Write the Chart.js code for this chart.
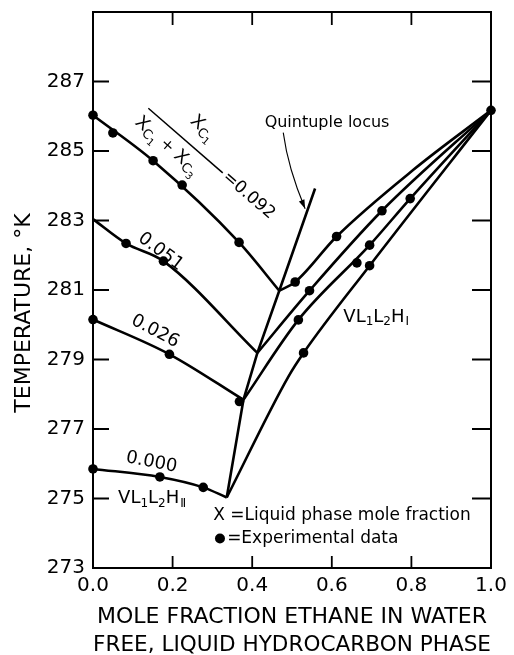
<!DOCTYPE html>
<html>
<head>
<meta charset="utf-8">
<title>Ethane hydrate phase diagram</title>
<script src="https://cdn.jsdelivr.net/npm/chart.js@4.4.1/dist/chart.umd.min.js"></script>
<style>
  html, body { margin: 0; padding: 0; background: #fff; }
  canvas { display: block; }
</style>
</head>
<body>
<canvas id="chart" width="514" height="655"></canvas>
<script>
// Axis ticks
const xTicks = [0, 0.2, 0.4, 0.6, 0.8, 1.0];
const yTicks = [273, 275, 277, 279, 281, 283, 285, 287];

// Isopleths, left of the quintuple locus (xC1 / (xC1 + xC3))
const left092X = [0, 0.151, 0.367, 0.468];
const left092Y = [286.03, 284.72, 282.37, 280.98];
const left051X = [0, 0.083, 0.177, 0.413];
const left051Y = [283.04, 282.34, 281.83, 279.19];
const left026X = [0, 0.192, 0.378];
const left026Y = [280.15, 279.15, 277.84];
const left000X = [0, 0.168, 0.277, 0.336];
const left000Y = [275.85, 275.62, 275.32, 275.03];

// Isopleths, right of the quintuple locus (VL1L2HI region)
const right092X = [0.468, 0.508, 0.612, 0.805, 1.0];
const right092Y = [280.98, 281.23, 282.54, 284.46, 286.17];
const right051X = [0.413, 0.544, 0.726, 1.0];
const right051Y = [279.19, 280.98, 283.28, 286.17];
const right026X = [0.378, 0.516, 0.695, 0.797, 1.0];
const right026Y = [277.84, 280.14, 282.29, 283.63, 286.17];
const right000X = [0.336, 0.491, 0.529, 0.695, 1.0];
const right000Y = [275.03, 278.51, 279.19, 281.70, 286.17];

// Quintuple locus
const quintX = [0.336, 0.378, 0.413, 0.468, 0.558];
const quintY = [275.03, 277.84, 279.19, 280.98, 283.92];

// Experimental data
const expX = [0, 0.050, 0.151, 0.224, 0.367, 0.508, 0.612,
              0.083, 0.177, 0.544, 0.726,
              0, 0.192, 0.368, 0.516, 0.663, 0.695, 0.797,
              0, 0.168, 0.277, 0.529, 0.695, 1.0];
const expY = [286.03, 285.52, 284.72, 284.02, 282.37, 281.23, 282.54,
              282.34, 281.83, 280.98, 283.28,
              280.15, 279.15, 277.79, 280.14, 281.78, 282.29, 283.63,
              275.85, 275.62, 275.32, 279.19, 281.70, 286.17];

const INK = '#000';
const FONT = '"DejaVu Sans", sans-serif';

function zip(xs, ys) {
  return xs.map((x, i) => ({ x, y: ys[i] }));
}

function curve(xs, ys, smooth) {
  return {
    type: 'line',
    data: zip(xs, ys),
    borderColor: INK,
    borderWidth: 2.6,
    pointRadius: 0,
    fill: false,
    clip: false,
    cubicInterpolationMode: smooth ? 'monotone' : 'default',
    tension: 0,
  };
}

// text made of runs of different sizes (for subscripts)
function drawRich(ctx, parts, x, y, angle, align) {
  ctx.save();
  ctx.translate(x, y);
  ctx.rotate(angle || 0);
  ctx.textBaseline = 'middle';
  ctx.textAlign = 'left';
  let w = 0;
  parts.forEach(p => { ctx.font = `${p.size}px ${FONT}`; w += ctx.measureText(p.t).width; });
  let cx = align === 'center' ? -w / 2 : 0;
  parts.forEach(p => {
    ctx.font = `${p.size}px ${FONT}`;
    ctx.fillText(p.t, cx + (p.dx || 0), p.dy || 0);
    cx += ctx.measureText(p.t).width;
  });
  ctx.restore();
}

function xc(sub) {
  return [
    { t: 'X', size: 18 },
    { t: 'C', size: 13, dy: 5 },
    { t: sub, size: 10, dy: 9 },
  ];
}

const notes = {
  id: 'notes',
  afterDraw(chart) {
    const { ctx, chartArea: a, scales: { x, y } } = chart;
    const px = v => x.getPixelForValue(v);
    const py = v => y.getPixelForValue(v);
    const deg = d => d * Math.PI / 180;

    ctx.save();
    ctx.fillStyle = INK;
    ctx.strokeStyle = INK;

    // frame and inward ticks on all four sides
    ctx.lineWidth = 2;
    ctx.strokeRect(a.left, a.top, a.right - a.left, a.bottom - a.top);
    ctx.lineWidth = 1.8;
    ctx.beginPath();
    xTicks.slice(1, -1).forEach(v => {
      ctx.moveTo(px(v), a.bottom); ctx.lineTo(px(v), a.bottom - 12);
      ctx.moveTo(px(v), a.top); ctx.lineTo(px(v), a.top + 13);
    });
    yTicks.slice(1).forEach(v => {
      ctx.moveTo(a.left, py(v)); ctx.lineTo(a.left + 16, py(v));
      ctx.moveTo(a.right, py(v)); ctx.lineTo(a.right - 19, py(v));
    });
    ctx.stroke();

    // y axis title
    ctx.save();
    ctx.translate(24, 313);
    ctx.rotate(-Math.PI / 2);
    ctx.font = `22px ${FONT}`;
    ctx.textAlign = 'center';
    ctx.textBaseline = 'middle';
    ctx.fillText('TEMPERATURE, °K', 0, 0);
    ctx.restore();

    // isopleth labels
    drawRich(ctx, [{ t: '0.051', size: 18 }], px(0.170), py(282.10), deg(37), 'center');
    drawRich(ctx, [{ t: '0.026', size: 18 }], px(0.156), py(279.81), deg(28), 'center');
    drawRich(ctx, [{ t: '0.000', size: 18 }], px(0.147), py(276.04), deg(11), 'center');

    // xC1 / (xC1 + xC3) = 0.092
    const b0x = px(0.139), b0y = py(286.23), b1x = px(0.326), b1y = py(284.37);
    const ang = Math.atan2(b1y - b0y, b1x - b0x);
    const half = Math.hypot(b1x - b0x, b1y - b0y) / 2;
    ctx.save();
    ctx.translate((b0x + b1x) / 2, (b0y + b1y) / 2);
    ctx.rotate(ang);
    ctx.lineWidth = 1.5;
    ctx.beginPath();
    ctx.moveTo(-half, 0); ctx.lineTo(half, 0);
    ctx.stroke();
    drawRich(ctx, xc('1'), -9, -21, 0);
    drawRich(ctx, [...xc('1'), { t: ' + ', size: 16 }, ...xc('3')], -50, 16, 0);
    drawRich(ctx, [{ t: '=0.092', size: 17 }], half + 3, 0, 0);
    ctx.restore();

    // quintuple locus label and arrow
    ctx.font = `16px ${FONT}`;
    ctx.textAlign = 'center';
    ctx.textBaseline = 'middle';
    ctx.fillText('Quintuple locus', px(0.588), py(285.82));
    const sx = px(0.478), sy = py(285.53), qx = px(0.49), qy = py(284.51), ex = px(0.533), ey = py(283.34);
    ctx.lineWidth = 1.1;
    ctx.beginPath();
    ctx.moveTo(sx, sy);
    ctx.quadraticCurveTo(qx, qy, ex, ey);
    ctx.stroke();
    const da = Math.atan2(ey - qy, ex - qx);
    ctx.beginPath();
    ctx.moveTo(ex, ey);
    ctx.lineTo(ex - 9 * Math.cos(da) + 3 * Math.sin(da), ey - 9 * Math.sin(da) - 3 * Math.cos(da));
    ctx.lineTo(ex - 9 * Math.cos(da) - 3 * Math.sin(da), ey - 9 * Math.sin(da) + 3 * Math.cos(da));
    ctx.closePath();
    ctx.fill();

    // region labels
    drawRich(ctx, [
      { t: 'VL', size: 18 }, { t: '1', size: 12, dy: 5 },
      { t: 'L', size: 18 }, { t: '2', size: 12, dy: 5 },
      { t: 'H', size: 18 }, { t: 'Ⅰ', size: 12, dy: 5, dx: 1 },
    ], px(0.629), py(280.22), 0);
    drawRich(ctx, [
      { t: 'VL', size: 18 }, { t: '1', size: 12, dy: 5 },
      { t: 'L', size: 18 }, { t: '2', size: 12, dy: 5 },
      { t: 'H', size: 18 }, { t: 'Ⅱ', size: 12, dy: 5, dx: 1 },
    ], px(0.063), py(275.0), 0);

    // key
    ctx.font = `17px ${FONT}`;
    ctx.textAlign = 'left';
    ctx.textBaseline = 'middle';
    ctx.fillText('X =Liquid phase mole fraction', px(0.302), py(274.52));
    ctx.beginPath();
    ctx.arc(px(0.319), py(273.85), 5, 0, Math.PI * 2);
    ctx.fill();
    ctx.fillText('=Experimental data', px(0.337), py(273.85));

    ctx.restore();
  }
};

new Chart(document.getElementById('chart'), {
  data: {
    datasets: [
      {
        type: 'scatter',
        data: zip(expX, expY),
        pointRadius: 4.8,
        pointBackgroundColor: INK,
        pointBorderWidth: 0,
        showLine: false,
        clip: false,
      },
      curve(left092X, left092Y, true),
      curve(left051X, left051Y, true),
      curve(left026X, left026Y, true),
      curve(left000X, left000Y, true),
      curve(right092X, right092Y, true),
      curve(right051X, right051Y, true),
      curve(right026X, right026Y, true),
      curve(right000X, right000Y, true),
      curve(quintX, quintY, false),
    ],
  },
  options: {
    responsive: false,
    animation: false,
    events: [],
    layout: { padding: { top: 12, right: 23, left: 0, bottom: 0 } },
    plugins: { legend: { display: false }, tooltip: { enabled: false } },
    scales: {
      x: {
        type: 'linear',
        min: 0,
        max: 1,
        afterBuildTicks: s => { s.ticks = xTicks.map(v => ({ value: v })); },
        afterFit: s => { s.height = 87; s.paddingLeft = 0; s.paddingRight = 0; },
        grid: { display: false, drawTicks: false },
        border: { display: false },
        ticks: {
          color: INK,
          padding: 6,
          font: { family: FONT, size: 20 },
          callback: v => v.toFixed(1),
        },
        title: {
          display: true,
          text: ['MOLE FRACTION ETHANE IN WATER', 'FREE, LIQUID HYDROCARBON PHASE'],
          color: INK,
          font: { family: FONT, size: 22, lineHeight: '28px' },
          padding: { top: 0, bottom: -4 },
        },
      },
      y: {
        type: 'linear',
        min: 273,
        max: 289,
        afterBuildTicks: s => { s.ticks = yTicks.map(v => ({ value: v })); },
        afterFit: s => { s.width = 93; s.paddingTop = 0; s.paddingBottom = 0; },
        grid: { display: false, drawTicks: false },
        border: { display: false },
        ticks: {
          color: INK,
          padding: 8,
          font: { family: FONT, size: 20 },
          callback: v => String(v),
        },
      },
    },
  },
  plugins: [notes],
});
</script>
</body>
</html>
